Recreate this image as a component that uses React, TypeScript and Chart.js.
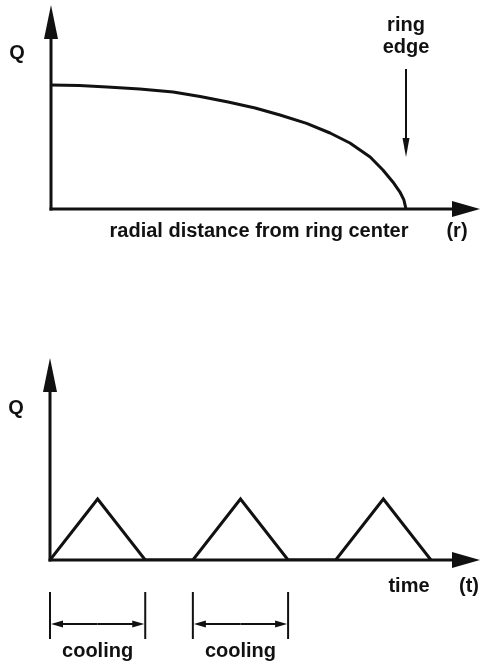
import React, { useEffect, useRef } from "react";
import { Chart, registerables } from "chart.js";

Chart.register(...registerables);

// Heat deposition profile across the ring (normalised radius, normalised Q)
const radius = [0, 0.08, 0.158, 0.25, 0.344, 0.42, 0.499, 0.575, 0.645, 0.72, 0.786, 0.842, 0.899, 0.935, 0.963, 0.983, 0.994, 1.0];
const heatProfile = [1.0, 0.995, 0.984, 0.967, 0.944, 0.908, 0.863, 0.815, 0.758, 0.69, 0.613, 0.532, 0.419, 0.315, 0.218, 0.137, 0.073, 0];

// Pulsed heating in time (arbitrary time units)
const times = [0, 1, 2, 3, 4, 5, 6, 7, 8];
const heatPulse = [0, 1, 0, 0, 1, 0, 0, 1, 0];

// Cooling intervals marked under the time axis
const coolingStart = [0, 3];
const coolingEnd = [2, 5];

const INK = "#111";
const FONT = "bold 20px 'Liberation Sans', Arial, Helvetica, sans-serif";

function arrow(
  ctx: CanvasRenderingContext2D,
  x1: number,
  y1: number,
  x2: number,
  y2: number,
  headLen: number,
  headHalf: number,
  lineWidth: number
) {
  const dx = x2 - x1;
  const dy = y2 - y1;
  const len = Math.hypot(dx, dy);
  const ux = dx / len;
  const uy = dy / len;
  const bx = x2 - ux * headLen;
  const by = y2 - uy * headLen;
  ctx.save();
  ctx.strokeStyle = INK;
  ctx.fillStyle = INK;
  ctx.lineWidth = lineWidth;
  ctx.lineCap = "butt";
  ctx.beginPath();
  ctx.moveTo(x1, y1);
  ctx.lineTo(bx + ux, by + uy);
  ctx.stroke();
  ctx.beginPath();
  ctx.moveTo(x2, y2);
  ctx.lineTo(bx - uy * headHalf, by + ux * headHalf);
  ctx.lineTo(bx + uy * headHalf, by - ux * headHalf);
  ctx.closePath();
  ctx.fill();
  ctx.restore();
}

function text(ctx: CanvasRenderingContext2D, s: string, x: number, y: number) {
  ctx.save();
  ctx.fillStyle = INK;
  ctx.font = FONT;
  ctx.textAlign = "center";
  ctx.textBaseline = "middle";
  ctx.fillText(s, x, y);
  ctx.restore();
}

function drawAxes(chart: any) {
  const ctx = chart.ctx as CanvasRenderingContext2D;
  const xs = chart.scales.x;
  const ys = chart.scales.y;
  const { top, right } = chart.chartArea;
  const x0 = xs.getPixelForValue(0);
  const y0 = ys.getPixelForValue(0);
  arrow(ctx, x0, y0 + 1.5, x0, top, 34, 7, 3);
  arrow(ctx, x0 - 1.5, y0, right, y0, 28, 8, 3);
}

const profilePlugin = {
  id: "profileDecor",
  beforeDatasetsDraw(chart: any) {
    drawAxes(chart);
  },
  afterDatasetsDraw(chart: any) {
    const ctx = chart.ctx as CanvasRenderingContext2D;
    const xs = chart.scales.x;
    const ys = chart.scales.y;
    const x0 = xs.getPixelForValue(0);
    const y0 = ys.getPixelForValue(0);
    const edgeX = xs.getPixelForValue(1);
    text(ctx, "Q", x0 - 34, 53);
    text(ctx, "radial distance from ring center", 259, y0 + 22);
    text(ctx, "(r)", 457, y0 + 22);
    text(ctx, "ring", edgeX, 25);
    text(ctx, "edge", edgeX, 47);
    arrow(ctx, edgeX, 69, edgeX, 157, 19, 3.5, 2);
  },
};

const pulsePlugin = {
  id: "pulseDecor",
  beforeDatasetsDraw(chart: any) {
    drawAxes(chart);
  },
  afterDatasetsDraw(chart: any) {
    const ctx = chart.ctx as CanvasRenderingContext2D;
    const xs = chart.scales.x;
    const ys = chart.scales.y;
    const x0 = xs.getPixelForValue(0);
    const y0 = ys.getPixelForValue(0);
    text(ctx, "Q", x0 - 34, 78);
    text(ctx, "time", 409, y0 + 26);
    text(ctx, "(t)", 469, y0 + 26);
    ctx.save();
    ctx.strokeStyle = INK;
    ctx.lineWidth = 2;
    coolingStart.forEach((s, i) => {
      const a = xs.getPixelForValue(s);
      const b = xs.getPixelForValue(coolingEnd[i]);
      ctx.beginPath();
      ctx.moveTo(a, y0 + 32);
      ctx.lineTo(a, y0 + 79);
      ctx.moveTo(b, y0 + 32);
      ctx.lineTo(b, y0 + 79);
      ctx.stroke();
      const mid = (a + b) / 2;
      arrow(ctx, mid, y0 + 64, a + 1, y0 + 64, 12, 3.5, 2);
      arrow(ctx, mid, y0 + 64, b - 1, y0 + 64, 12, 3.5, 2);
      text(ctx, "cooling", mid, y0 + 91);
    });
    ctx.restore();
  },
};

function makeChart(
  canvas: HTMLCanvasElement,
  xData: number[],
  yData: number[],
  xMax: number,
  yMax: number,
  padding: { left: number; right: number; top: number; bottom: number },
  plugin: any,
  joinStyle: CanvasLineJoin
) {
  return new Chart(canvas, {
    type: "line",
    data: {
      datasets: [
        {
          data: xData.map((x, i) => ({ x, y: yData[i] })),
          borderColor: INK,
          borderWidth: 3,
          pointRadius: 0,
          fill: false,
          tension: 0,
          borderJoinStyle: joinStyle,
        },
      ],
    },
    options: {
      animation: false,
      responsive: false,
      maintainAspectRatio: false,
      layout: { padding },
      plugins: { legend: { display: false }, tooltip: { enabled: false } },
      scales: {
        x: { type: "linear", min: 0, max: xMax, display: false },
        y: { type: "linear", min: 0, max: yMax, display: false },
      },
    },
    plugins: [plugin],
  } as any);
}

export default function App() {
  const topRef = useRef<HTMLCanvasElement>(null);
  const bottomRef = useRef<HTMLCanvasElement>(null);

  useEffect(() => {
    const charts: Chart[] = [];
    if (topRef.current) {
      charts.push(
        makeChart(
          topRef.current,
          radius,
          heatProfile,
          429 / 355,
          204 / 124,
          { left: 51, right: 0, top: 5, bottom: 51 },
          profilePlugin,
          "round"
        )
      );
    }
    if (bottomRef.current) {
      charts.push(
        makeChart(
          bottomRef.current,
          times,
          heatPulse,
          9.03,
          202 / 61,
          { left: 50, right: 0, top: 28, bottom: 102 },
          pulsePlugin,
          "miter"
        )
      );
    }
    return () => charts.forEach((c) => c.destroy());
  }, []);

  return (
    <div
      style={{
        position: "absolute",
        left: 0,
        top: 0,
        width: 480,
        height: 662,
        background: "#fff",
      }}
    >
      <canvas
        ref={topRef}
        width={480}
        height={260}
        style={{ position: "absolute", left: 0, top: 0, width: 480, height: 260 }}
      />
      <canvas
        ref={bottomRef}
        width={480}
        height={332}
        style={{ position: "absolute", left: 0, top: 330, width: 480, height: 332 }}
      />
    </div>
  );
}
